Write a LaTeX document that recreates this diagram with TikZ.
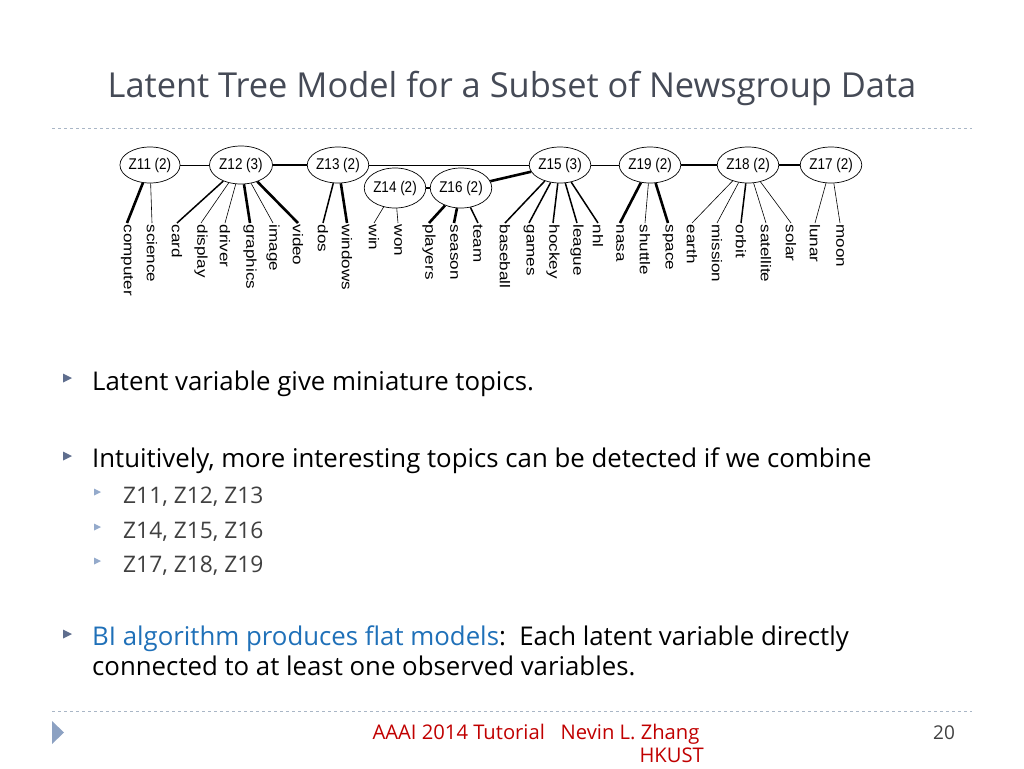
\documentclass[tikz,border=0pt]{standalone}
\usepackage{fontspec}
\setmainfont{Open Sans}
\newfontfamily\diagfont{Liberation Sans}
\usetikzlibrary{shapes.geometric}

\definecolor{titlegray}{HTML}{454A56}
\definecolor{rulegray}{HTML}{A9B6C6}
\definecolor{bulletc}{HTML}{5F6E8E}
\definecolor{subbulletc}{HTML}{94AACB}
\definecolor{subtext}{HTML}{404040}
\definecolor{linkblue}{HTML}{1F70B8}
\definecolor{footred}{HTML}{C00000}

\def\LeafTop{223}
\def\RowY{165}
\def\WordBox#1{\scalebox{1.2}[1]{#1}}
\def\LatBox#1{\scalebox{1}[1.15]{#1}}

\begin{document}
\begin{tikzpicture}[x=1pt,y=-1pt,
  latent/.style={ellipse, draw, line width=0.7, minimum width=60, minimum height=36,
    inner sep=0, font=\diagfont\fontsize{13.5}{13.5}\selectfont},
  word/.style={rotate=-90, anchor=west, inner sep=1.5,
    font=\diagfont\fontsize{14.2}{14.2}\selectfont},
  weak/.style={line width=0.6},
  mid/.style={line width=1.5},
  strong/.style={line width=2.6},
  bodytext/.style={anchor=base west, inner sep=0, font=\fontsize{25.8}{30}\selectfont},
  subitem/.style={anchor=base west, inner sep=0, text=subtext, font=\fontsize{22.8}{27}\selectfont},
  foottext/.style={inner sep=0, text=footred, font=\fontsize{20.2}{24}\selectfont}]
  \useasboundingbox (0,0) rectangle (1024,768);

  % --- Titulo ---
  \node[anchor=base, inner sep=0, text=titlegray, font=\fontsize{34.4}{40}\selectfont]
    (title) at (512,97) {Latent Tree Model for a Subset of Newsgroup Data};
  \draw[rulegray, dashed, line width=0.8] (52,128) -- (972,128);

  % --- Variables latentes ---
  \node[latent] (z11) at (150,\RowY) {\LatBox{Z11 (2)}};
  \node[latent, minimum width=63, minimum height=38] (z12) at (241,\RowY) {\LatBox{Z12 (3)}};
  \node[latent] (z13) at (338,\RowY) {\LatBox{Z13 (2)}};
  \node[latent, minimum height=40] (z14) at (395,188) {\LatBox{Z14 (2)}};
  \node[latent, minimum height=40] (z16) at (461,188) {\LatBox{Z16 (2)}};
  \node[latent] (z15) at (560,\RowY) {\LatBox{Z15 (3)}};
  \node[latent] (z19) at (650,\RowY) {\LatBox{Z19 (2)}};
  \node[latent] (z18) at (748,\RowY) {\LatBox{Z18 (2)}};
  \node[latent] (z17) at (831,\RowY) {\LatBox{Z17 (2)}};

  \draw[weak] (z11) -- (z12);
  \draw[mid] (z12) -- (z13);
  \draw[weak] (z13.east) -- (z15.west);
  \draw[mid] (z14) -- (z16);
  \draw[strong] (z16) -- (z15);
  \draw[weak] (z15) -- (z19);
  \draw[mid] (z19) -- (z18);
  \draw[mid] (z18) -- (z17);

  % --- Palabras observadas ---
  \foreach \w/\x/\p/\s in {%
    computer/127/z11/strong, science/152/z11/weak,
    card/177/z12/mid, display/201/z12/weak, driver/225/z12/weak,
    graphics/250/z12/strong, image/273/z12/weak, video/298/z12/strong,
    dos/323/z13/mid, windows/347/z13/strong,
    win/374/z14/weak, won/398/z14/weak,
    players/429/z16/strong, season/454/z16/strong, team/478/z16/mid,
    baseball/505/z15/mid, games/529/z15/mid, hockey/553/z15/mid,
    league/577/z15/mid, nhl/598/z15/mid,
    nasa/620/z19/strong, shuttle/645/z19/weak, space/668/z19/strong,
    earth/692/z18/weak, mission/717/z18/weak, orbit/741/z18/mid,
    satellite/766/z18/weak, solar/791/z18/weak,
    lunar/815/z17/weak, moon/840/z17/weak%
  }{
    \node[word] (\w) at (\x,\LeafTop) {\WordBox{\w}};
    \draw[\s] (\p) -- (\w.west);
  }

  % --- Vinetas ---
  \foreach \y in {378,456,634}{
    \fill[bulletc] (63,\y-4.5) -- ++(9,4.5) -- ++(-9,4.5) -- cycle;
  }
  \foreach \y in {492,527,561}{
    \fill[subbulletc] (94,\y-3.5) -- ++(7,3.5) -- ++(-7,3.5) -- cycle;
  }

  \node[bodytext] (b1) at (92,390) {Latent variable give miniature topics.};
  \node[bodytext] (b2) at (92,467) {Intuitively, more interesting topics can be detected if we combine};
  \node[subitem] (s1) at (123,503) {Z11, Z12, Z13};
  \node[subitem] (s2) at (123,538) {Z14, Z15, Z16};
  \node[subitem] (s3) at (123,572) {Z17, Z18, Z19};
  \node[bodytext] (b3) at (92,645) {\textcolor{linkblue}{BI algorithm produces flat models}:\ \ Each latent variable directly};
  \node[bodytext] (b4) at (92,675) {connected to at least one observed variables.};

  % --- Pie ---
  \draw[rulegray, dashed, line width=0.8] (52,711) -- (972,711);
  \fill[subbulletc!85!bulletc] (52,721) -- (64,732.5) -- (52,744) -- cycle;
  \node[foottext, anchor=base] (foot) at (536,739) {AAAI 2014 Tutorial\ \ \ Nevin L. Zhang};
  \node[foottext, anchor=base east] (hkust) at (704,762) {HKUST};
  \node[anchor=base, inner sep=0, text=subtext, font=\fontsize{19}{22}\selectfont]
    (page) at (944,739) {20};
\end{tikzpicture}
\end{document}
